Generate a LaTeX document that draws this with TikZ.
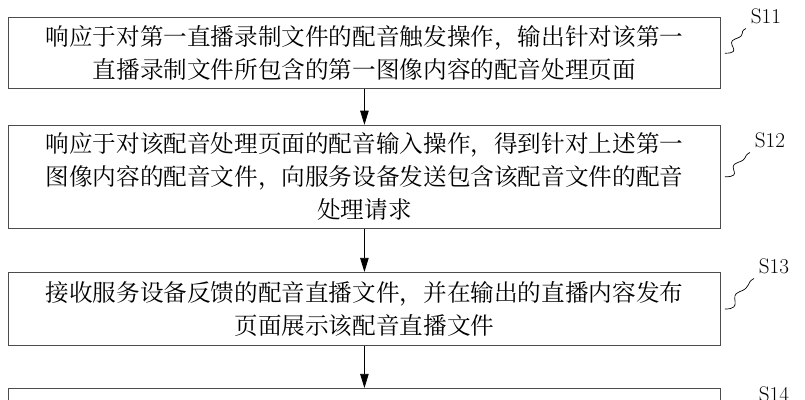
\documentclass[tikz,border=0pt]{standalone}
\usepackage{fontspec}
\newfontfamily\cjk{Noto Serif CJK SC}[Scale=1]
\usetikzlibrary{arrows.meta,positioning,calc}
\tikzset{
  stepbox/.style={draw=black!70, line width=0.6pt, minimum width=17.8cm, align=center, inner sep=4pt, font=\fontsize{16.8}{23.5}\selectfont},
  flow/.style={-{Triangle[length=10pt,width=6pt]}, line width=0.5pt},
  tag/.style={font=\fontsize{15}{15}\selectfont},
}
\begin{document}
\begin{tikzpicture}
  \useasboundingbox (0,0) rectangle (20.125,-10);
  \clip (0,0) rectangle (20.125,-10);

  % steps
  \node[stepbox, minimum height=1.78cm, anchor=north west] (s11) at (0.2,-0.43)
    {\cjk 响应于对第一直播录制文件的配音触发操作，输出针对该第一\\\cjk 直播录制文件所包含的第一图像内容的配音处理页面};
  \node[stepbox, minimum height=2.58cm, anchor=north west] (s12) at (0.2,-3.12)
    {\cjk 响应于对该配音处理页面的配音输入操作，得到针对上述第一\\\cjk 图像内容的配音文件，向服务设备发送包含该配音文件的配音\\\cjk 处理请求};
  \node[stepbox, minimum height=1.83cm, anchor=north west] (s13) at (0.2,-6.8)
    {\cjk 接收服务设备反馈的配音直播文件，并在输出的直播内容发布\\\cjk 页面展示该配音直播文件};
  \node[stepbox, minimum height=2cm, anchor=north west] (s14) at (0.2,-9.7) {};

  % arrows
  \draw[flow] (s11) -- (s12);
  \draw[flow] (s12) -- (s13);
  \draw[flow] (s13) -- (s14);

  % labels
  \node[tag] (l11) at (19.15,-0.4) {S11};
  \node[tag] (l12) at (19.25,-3.5) {S12};
  \node[tag] (l13) at (19.35,-6.65) {S13};
  \node[tag] (l14) at (19.35,-9.85) {S14};
  \foreach \n in {11,12,13} {
    \draw[line width=0.5pt] (s\n.east) ++(0.1,0) coordinate (w\n)
      .. controls +(0.5,0) and +(-0.3,-0.1) .. ($(w\n)!0.5!(l\n.south west)+(0,0.05)$)
      .. controls +(0.3,0.1) and +(-0.2,-0.1) .. (l\n.south west);
  }
\end{tikzpicture}
\end{document}
